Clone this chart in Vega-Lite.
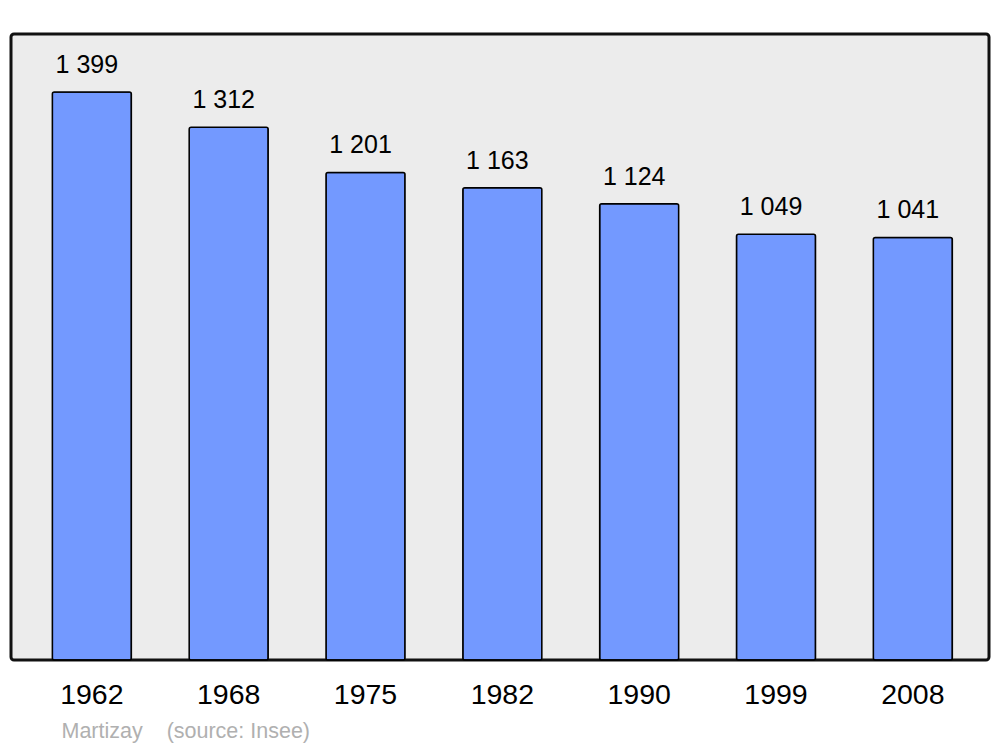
{
  "$schema": "https://vega.github.io/schema/vega-lite/v6.json",
  "width": 978,
  "height": 626,
  "autosize": {"type": "none"},
  "padding": {"left": 11, "top": 34, "right": 11, "bottom": 87},
  "background": "white",
  "config": {
    "font": "Liberation Sans",
    "view": {"fill": "#ececec", "stroke": "#111111", "strokeWidth": 3, "cornerRadius": 3}
  },
  "data": {
    "values": [
      {"year": "1962", "pop": 1399, "label": "1 399"},
      {"year": "1968", "pop": 1312, "label": "1 312"},
      {"year": "1975", "pop": 1201, "label": "1 201"},
      {"year": "1982", "pop": 1163, "label": "1 163"},
      {"year": "1990", "pop": 1124, "label": "1 124"},
      {"year": "1999", "pop": 1049, "label": "1 049"},
      {"year": "2008", "pop": 1041, "label": "1 041"}
    ]
  },
  "encoding": {
    "x": {
      "field": "year",
      "type": "ordinal",
      "scale": {"paddingInner": 0.4225, "paddingOuter": 0.285, "align": 0.53},
      "axis": {
        "domain": false,
        "ticks": false,
        "tickSize": 0,
        "labelAngle": 0,
        "labelFontSize": 28.5,
        "labelColor": "#000000",
        "labelPadding": 20,
        "title": "Martizay\u00a0\u00a0\u00a0 (source: Insee)",
        "titleFontSize": 21.5,
        "titleFontWeight": "normal",
        "titleColor": "#b0b0b0",
        "titleAlign": "left",
        "titleAnchor": "start",
        "titleBaseline": "alphabetic",
        "titleX": 50,
        "titleY": 77
      }
    },
    "y": {
      "field": "pop",
      "type": "quantitative",
      "scale": {"domain": [0, 1542], "nice": false},
      "axis": null
    }
  },
  "layer": [
    {
      "mark": {"type": "bar", "color": "#7399ff", "stroke": "#000000", "strokeWidth": 1.5, "cornerRadius": 2}
    },
    {
      "mark": {"type": "text", "fontSize": 25, "color": "#000000", "baseline": "alphabetic", "dy": -19, "dx": -5},
      "encoding": {"text": {"field": "label"}}
    }
  ]
}
